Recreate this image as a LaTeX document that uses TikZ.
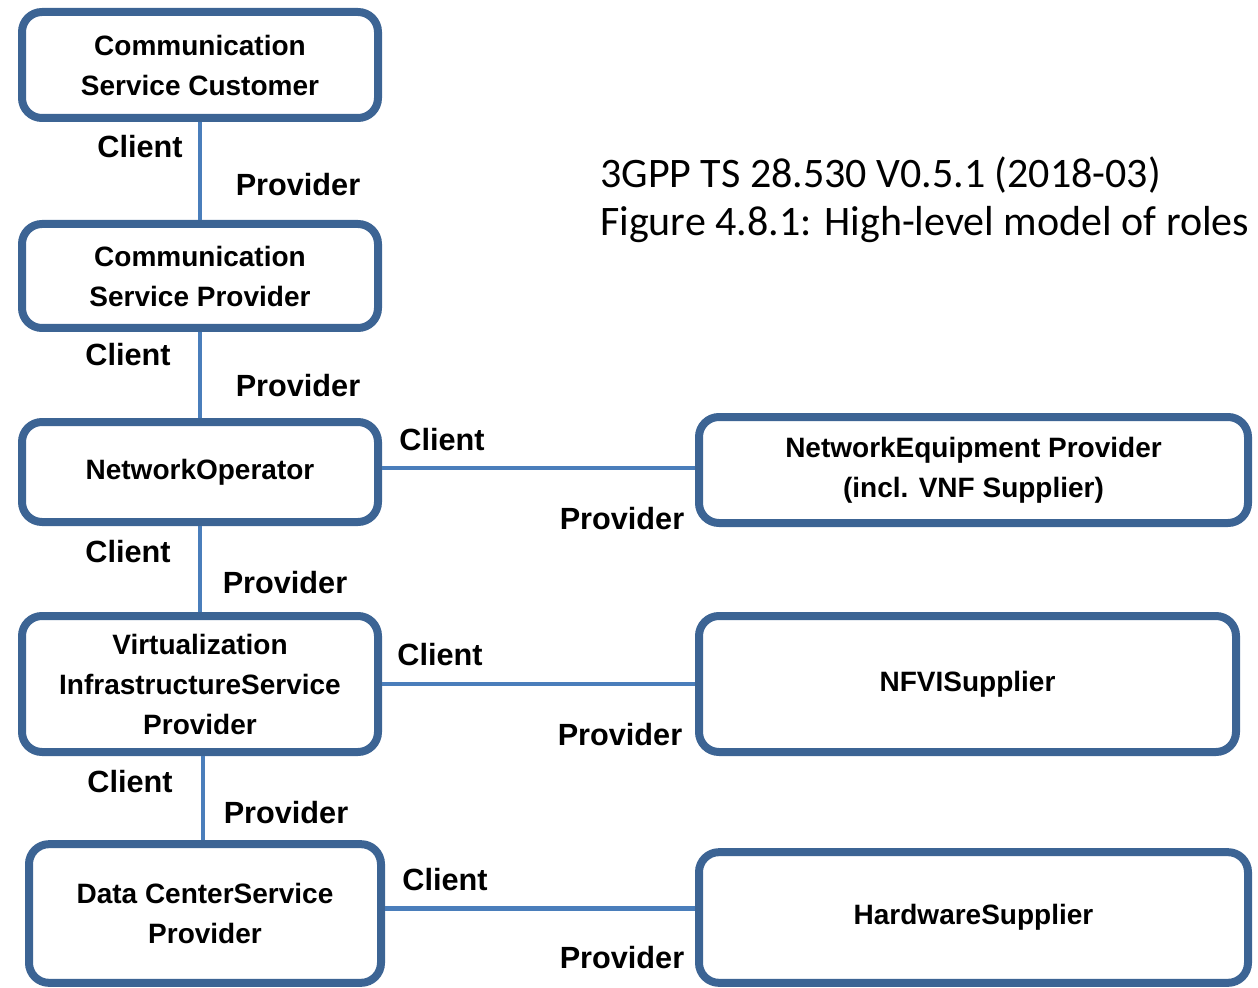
\documentclass[tikz,border=0pt]{standalone}
\usepackage{fontspec}
\usetikzlibrary{calc}
\setmainfont{Liberation Sans}
\newfontfamily\carlito{Carlito}
\definecolor{boxblue}{HTML}{3C6494}
\definecolor{linkblue}{HTML}{4A7EBB}
\begin{document}
\begin{tikzpicture}[x=0.75pt,y=-0.75pt,
  role/.style={draw=boxblue,line width=6pt,rounded corners=15pt,fill=white,
    align=center,inner sep=0pt,font=\bfseries\fontsize{21}{30}\selectfont},
  link/.style={draw=linkblue,line width=3.6pt},
  lbl/.style={inner sep=0pt,font=\bfseries\fontsize{23}{26}\selectfont},
  ttl/.style={anchor=west,inner sep=0pt,font=\carlito\fontsize{31.5}{36}\selectfont}]
\useasboundingbox (0,0) rectangle (1258,988);
\node[role,minimum width=267pt,minimum height=79.5pt] (csc) at (200,65) {Communication\\Service Customer};
\node[role,minimum width=267pt,minimum height=78pt] (csp) at (200,276) {Communication\\Service Provider};
\node[role,minimum width=267pt,minimum height=75pt] (no) at (200,472) {NetworkOperator};
\node[role,minimum width=267pt,minimum height=102pt] (visp) at (200,684) {Virtualization\\InfrastructureService\\Provider};
\node[role,minimum width=264pt,minimum height=104pt] (dcsp) at (205,913.5) {Data CenterService\\Provider};
\node[role,minimum width=411.75pt,minimum height=79.5pt] (nep) at (973.5,470) {NetworkEquipment Provider\\(incl. VNF Supplier)};
\node[role,minimum width=402.75pt,minimum height=102pt] (nfvi) at (967.5,684) {NFVISupplier};
\node[role,minimum width=411.75pt,minimum height=98pt] (hw) at (973.5,917.5) {HardwareSupplier};
\draw[link] (csc.south) -- (csp.north);
\draw[link] (csp.south) -- (no.north);
\draw[link] (no.south) -- (visp.north);
\draw[link] ($(visp.south)+(3,0)$) -- ($(visp.south |- dcsp.north)+(3,0)$);
\draw[link] ($(no.east)+(0,-4)$) -- ($(no.east -| nep.west)+(0,-4)$);
\draw[link] (visp.east) -- (visp.east -| nfvi.west);
\draw[link] ($(dcsp.east)+(0,-5)$) -- ($(dcsp.east -| hw.west)+(0,-5)$);
\node[lbl] (c1) at (140,147) {Client};
\node[lbl] (p1) at (298,185) {Provider};
\node[lbl] (c2) at (128,355) {Client};
\node[lbl] (p2) at (298,386) {Provider};
\node[lbl] (c3) at (128,552) {Client};
\node[lbl] (p3) at (285,583) {Provider};
\node[lbl] (c4) at (130,782) {Client};
\node[lbl] (p4) at (286,813) {Provider};
\node[lbl] (c5) at (442,440) {Client};
\node[lbl] (p5) at (622,519) {Provider};
\node[lbl] (c6) at (440,655) {Client};
\node[lbl] (p6) at (620,735) {Provider};
\node[lbl] (c7) at (445,880) {Client};
\node[lbl] (p7) at (622,958) {Provider};
\node[ttl] (t1) at (600,175) {3GPP TS 28.530 V0.5.1 (2018-03)};
\node[ttl] (t2) at (600,225) {Figure 4.8.1: High-level model of roles};
\end{tikzpicture}
\end{document}
